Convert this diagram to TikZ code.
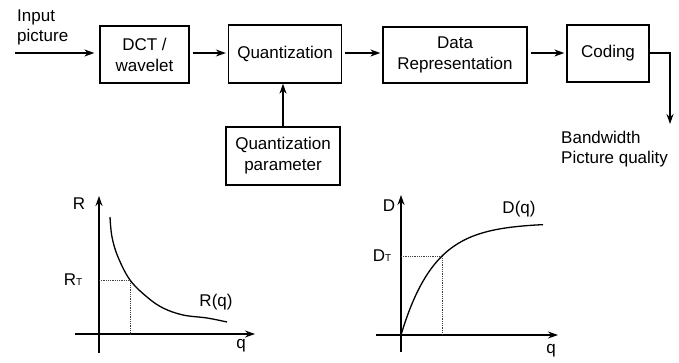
\documentclass[tikz,border=0pt]{standalone}
\usepackage{fontspec}
\setmainfont{Liberation Sans}
\usetikzlibrary{arrows.meta}
\begin{document}
\begin{tikzpicture}[x=1pt,y=-1pt,
  blk/.style={draw, line width=1.3pt, align=center, inner sep=0pt, font=\fontsize{17}{21}\selectfont},
  arr/.style={line width=1.3pt, -{Stealth[length=10pt,width=7pt]}},
  lbl/.style={font=\fontsize{17}{20}\selectfont, inner sep=0pt},
  axis/.style={line width=1.3pt, -{Stealth[length=10pt,width=7pt]}},
  guide/.style={densely dotted, line width=0.8pt, black!75},
  curve/.style={line width=1.3pt}]
\useasboundingbox (0,0) rectangle (679,363);
% blocks
\node[blk, minimum width=89pt, minimum height=57pt] (dct) at (144.5,54.5) {DCT /\\wavelet};
\node[blk, minimum width=113pt, minimum height=58pt] (quant) at (285,54) {Quantization};
\node[blk, minimum width=144pt, minimum height=56pt] (data) at (455,55) {Data\\Representation};
\node[blk, minimum width=82pt, minimum height=57pt] (coding) at (608,53.5) {Coding};
\node[blk, minimum width=114pt, minimum height=58pt] (qp) at (283,156) {Quantization\\parameter};
% texts
\node[lbl, align=left, anchor=west] (inp) at (17,27) {Input\\picture};
\node[lbl, align=left, anchor=north west] (bw) at (561,131) {Bandwidth\\Picture quality};
% connectors
\coordinate (instart) at (15,53);
\draw[arr, shorten >=5pt] (instart) -- (instart -| dct.west);
\draw[arr, shorten <=3pt, shorten >=2pt] (dct.east |- 0,53) -- (quant.west |- 0,53);
\draw[arr, shorten <=3pt, shorten >=2pt] (quant.east |- 0,53) -- (data.west |- 0,53);
\draw[arr, shorten <=3pt, shorten >=2pt] (data.east |- 0,53) -- (coding.west |- 0,53);
\draw[arr] (qp.north) -- (qp.north |- quant.south);
\coordinate (out) at (670,124);
\draw[arr] (coding.east |- 0,53) -| (out);
% left graph R(q)
\coordinate (Ryb) at (99,353);
\coordinate (Ryt) at (99,196);
\coordinate (Rxl) at (75,334);
\coordinate (Rxr) at (255,334);
\draw[axis] (Ryb) -- (Ryt);
\draw[axis] (Rxl) -- (Rxr);
\coordinate (RP) at (130,280);
\draw[guide] (RP -| Ryb) -- (RP) -- (RP |- Rxl);
\draw[curve] plot[smooth, tension=0.6] coordinates {(110,217) (112,237) (118,257) (RP) (147,297) (163,308) (183,315) (207,318) (227,322)};
\node[lbl] (Rl) at (79,204) {R};
\node[lbl] (RTl) at (73,280) {R{\fontsize{10}{10}\selectfont T}};
\node[lbl] (Rq) at (216,302) {R(q)};
\node[lbl] (Rxq) at (241,346) {q};
% right graph D(q)
\coordinate (Dyb) at (401,352);
\coordinate (Dyt) at (401,195);
\coordinate (Dxl) at (376,335);
\coordinate (Dxr) at (558,335);
\draw[axis] (Dyb) -- (Dyt);
\draw[axis] (Dxl) -- (Dxr);
\coordinate (DP) at (442,256);
\draw[guide] (DP -| Dyb) -- (DP) -- (DP |- Dxl);
\draw[curve] plot[smooth, domain=401:543, samples=60] (\x, {335-112*(1-exp(-(\x-401)/33.6))});
\node[lbl] (Dl) at (389,206) {D};
\node[lbl] (DTl) at (382,256) {D{\fontsize{10}{10}\selectfont T}};
\node[lbl] (Dq) at (519,209) {D(q)};
\node[lbl] (Dxq) at (551,351) {q};
\end{tikzpicture}
\end{document}
